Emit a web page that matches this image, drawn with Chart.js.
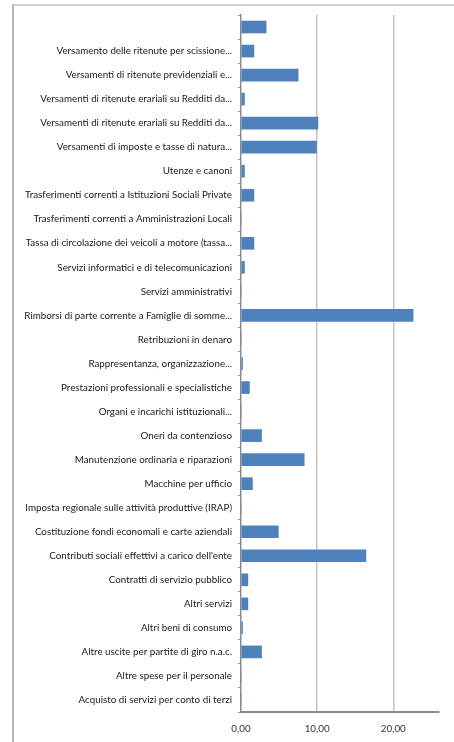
<!DOCTYPE html>
<html>
<head>
<meta charset="utf-8">
<script src="https://cdn.jsdelivr.net/npm/chart.js@4/dist/chart.umd.min.js"></script>
<style>
    html, body { margin: 0; padding: 0; background: #fff; overflow: hidden; }
    #frame {
        position: absolute; left: 12px; top: 4px;
        width: 520px; height: 800px;
        border-left: 2px solid #b4b4b4;
        border-top: 2px solid #cfcfcf;
    }
    #wrap { position: absolute; left: 0; top: 0; width: 454px; height: 742px; }
</style>
</head>
<body>
<div id="frame"></div>
<div id="wrap"><canvas id="speseChart"></canvas></div>
<script>
const CATEGORIES = [
    "",
    "Versamento delle ritenute per scissione...",
    "Versamenti di ritenute previdenziali e...",
    "Versamenti di ritenute erariali su Redditi da...",
    "Versamenti di ritenute erariali su Redditi da...",
    "Versamenti di imposte e tasse di natura...",
    "Utenze e canoni",
    "Trasferimenti correnti a Istituzioni Sociali Private",
    "Trasferimenti correnti a Amministrazioni Locali",
    "Tassa di circolazione dei veicoli a motore (tassa...",
    "Servizi informatici e di telecomunicazioni",
    "Servizi amministrativi",
    "Rimborsi di parte corrente a Famiglie di somme...",
    "Retribuzioni in denaro",
    "Rappresentanza, organizzazione...",
    "Prestazioni professionali e specialistiche",
    "Organi e incarichi istituzionali...",
    "Oneri da contenzioso",
    "Manutenzione ordinaria e riparazioni",
    "Macchine per ufficio",
    "Imposta regionale sulle attività produttive (IRAP)",
    "Costituzione fondi economali e carte aziendali",
    "Contributi sociali effettivi a carico dell'ente",
    "Contratti di servizio pubblico",
    "Altri servizi",
    "Altri beni di consumo",
    "Altre uscite per partite di giro n.a.c.",
    "Altre spese per il personale",
    "Acquisto di servizi per conto di terzi"
];

const VALUES = [
    3.3, 1.7, 7.5, 0.45, 10.1, 9.9, 0.45, 1.7, 0, 1.7,
    0.45, 0, 22.6, 0, 0.2, 1.1, 0, 2.7, 8.3, 1.5,
    0, 4.9, 16.4, 0.9, 0.9, 0.2, 2.7, 0, 0
];

const X_TICKS = [0, 10, 20];
const X_MAX = 26;

const fmt = (v) => v.toFixed(2).replace(".", ",");

const ctx = document.getElementById("speseChart").getContext("2d");

new Chart(ctx, {
    type: "bar",
    data: {
        labels: CATEGORIES,
        datasets: [{
            data: VALUES,
            backgroundColor: "#4f81bd",
            borderWidth: 0,
            barThickness: 12,
        }],
    },
    options: {
        indexAxis: "y",
        responsive: true,
        maintainAspectRatio: false,
        animation: false,
        layout: { padding: { left: 12, right: 15, top: 15, bottom: 0 } },
        plugins: {
            legend: { display: false },
            tooltip: { enabled: false },
        },
        scales: {
            x: {
                min: 0,
                max: X_MAX,
                afterBuildTicks: (scale) => {
                    scale.ticks = X_TICKS.map((v) => ({ value: v }));
                },
                afterFit: (scale) => { scale.height = 30; },
                grid: {
                    color: (c) => (c.tick && c.tick.value === 0 ? "rgba(0,0,0,0)" : "#c4c4c4"),
                    lineWidth: 1.5,
                    drawTicks: false,
                },
                border: { color: "#8c8c8c", width: 2 },
                ticks: {
                    padding: 11,
                    color: "#333",
                    font: { family: "Lato", size: 9.8 },
                    callback: (v) => fmt(v),
                },
            },
            y: {
                afterFit: (scale) => { scale.width = 229; },
                grid: {
                    drawOnChartArea: false,
                    drawTicks: true,
                    tickLength: 3,
                    color: "#9a9a9a",
                },
                border: { color: "#8c8c8c", width: 1.5 },
                ticks: {
                    padding: 6,
                    color: "#1a1a1a",
                    autoSkip: false,
                    font: { family: "Lato", size: 9.8 },
                },
            },
        },
    },
});
</script>
</body>
</html>
